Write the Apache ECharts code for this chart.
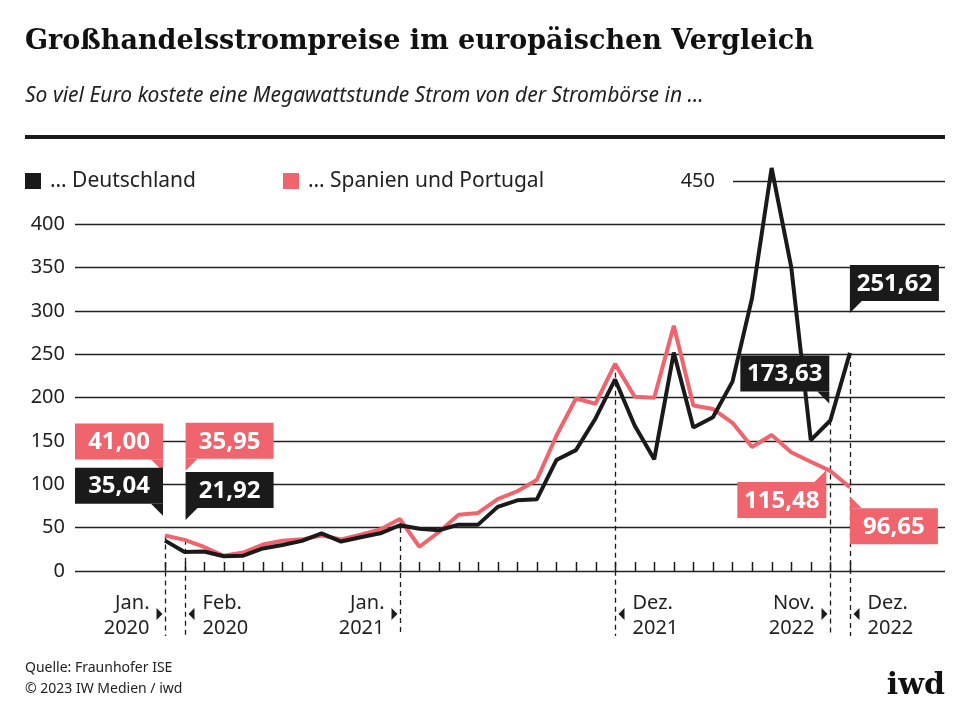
<!DOCTYPE html>
<html>
<head>
<meta charset="utf-8">
<script src="https://cdn.jsdelivr.net/npm/echarts@6/dist/echarts.min.js"></script>
<style>html,body{margin:0;padding:0;background:#fff}#main{width:970px;height:727px}</style>
</head>
<body>
<div id="main"></div>
<script>
// Jan 2020 .. Dez 2022, Euro je MWh
const months = ['Jan 20','Feb 20','Mär 20','Apr 20','Mai 20','Jun 20','Jul 20','Aug 20','Sep 20','Okt 20','Nov 20','Dez 20',
  'Jan 21','Feb 21','Mär 21','Apr 21','Mai 21','Jun 21','Jul 21','Aug 21','Sep 21','Okt 21','Nov 21','Dez 21',
  'Jan 22','Feb 22','Mär 22','Apr 22','Mai 22','Jun 22','Jul 22','Aug 22','Sep 22','Okt 22','Nov 22','Dez 22'];
const deutschland = [35.04,21.92,22.5,17,17.6,26,30,34.8,43.5,34,39,43.5,
  52.8,48.7,47,53.5,53.5,74,81.5,82.7,128,139.5,176,221,
  167.9,128.8,252,165.6,177.5,218.5,315,465,351,151,173.63,251.62];
const spanien = [41.00,35.95,27.7,17.6,21.3,30.6,35,36.5,41,36.5,42,48,
  60,28,45,65,67,83,92,105,156,199,193,239,
  201,200,283,191,187,171,143,157,137,126,115.48,96.65];
const yTicks = [0,50,100,150,200,250,300,350,400];
// marked months: index, line 1, line 2, side of label
const marks = [[0,'Jan.','2020','l'],[1,'Feb.','2020','r'],[12,'Jan.','2021','l'],[23,'Dez.','2021','r'],[34,'Nov.','2022','l'],[35,'Dez.','2022','r']];
// callouts: series, index, text, dx, dy of box corner relative to point
const callouts = [
  ['sp',0,'41,00',-90,-112,'br'],['de',0,'35,04',-90,-73,'br'],
  ['sp',1,'35,95',1,-117,'bl'],['de',1,'21,92',1,-80,'bl'],
  ['de',34,'173,63',-90,-65,'br'],['de',35,'251,62',0,-88,'bl'],
  ['sp',34,'115,48',-93,11,'tr'],['sp',35,'96,65',0,21,'tl']
];

const BLACK = '#1b1a1a', RED = '#f0646e';
const FONT = '"Noto Sans", sans-serif';
const chart = echarts.init(document.getElementById('main'));
chart.setOption({
  animation:false,
  grid:{left:75,right:25,top:181,bottom:156},
  xAxis:{type:'value',min:-4.6,max:39.86,show:false},
  yAxis:{type:'value',min:0,max:450,interval:50,axisLine:{show:false},axisTick:{show:false},
     splitLine:{lineStyle:{color:'#222',width:1.3}},
     axisLabel:{margin:10,fontSize:20,color:'#222',fontFamily:FONT,formatter:v=>v===450?'':v}},
  series:[
    {type:'line',name:'sp',symbol:'none',clip:false,data:spanien.map((v,i)=>[i,v]),lineStyle:{color:RED,width:4},z:3},
    {type:'line',name:'de',symbol:'none',clip:false,data:deutschland.map((v,i)=>[i,v]),lineStyle:{color:BLACK,width:4},z:4}
  ]
});

const px = (i,v)=>chart.convertToPixel({xAxisIndex:0,yAxisIndex:0},[i,v]);
const g = [];
g.push({type:'text',left:25,top:28,style:{text:'Großhandelsstrompreise im europäischen Vergleich',font:'bold 27px "DejaVu Serif", serif',fill:'#111'}});
g.push({type:'text',left:25,top:86,style:{text:'So viel Euro kostete eine Megawattstunde Strom von der Strombörse in …',font:'italic 21px '+FONT,fill:'#222'}});
g.push({type:'rect',shape:{x:25,y:135,width:920,height:4},style:{fill:BLACK}});
// hide left part of 450 line
g.push({type:'rect',shape:{x:0,y:178,width:733,height:6},style:{fill:'#fff'},z:1});
g.push({type:'text',x:715,y:181,style:{text:'450',font:'20px '+FONT,fill:'#222',align:'right',verticalAlign:'middle'},z:51});
g.push({type:'rect',shape:{x:25,y:173,width:16,height:16},style:{fill:BLACK},z:51});
g.push({type:'text',x:50,y:181,style:{text:'… Deutschland',font:'21px '+FONT,fill:'#222',verticalAlign:'middle'},z:51});
g.push({type:'rect',shape:{x:283,y:173,width:16,height:16},style:{fill:RED},z:51});
g.push({type:'text',x:308,y:181,style:{text:'… Spanien und Portugal',font:'21px '+FONT,fill:'#222',verticalAlign:'middle'},z:51});

// month ticks
months.forEach((m,i)=>{
  const p = px(i,0); const x = Math.round(p[0])+0.5;
  g.push({type:'line',shape:{x1:x,y1:p[1]-9,x2:x,y2:p[1]},style:{stroke:BLACK,lineWidth:1.5}});
});

marks.forEach(([i,a,b,side])=>{
  const top = px(i,Math.max(deutschland[i],spanien[i]));
  const x = Math.round(top[0])+0.5;
  g.push({type:'line',shape:{x1:x,y1:top[1],x2:x,y2:636},style:{stroke:BLACK,lineWidth:1.3,lineDash:[5,4]},z:2});
  const tx = side==='l'?x-16:x+17, al = side==='l'?'right':'left';
  g.push({type:'text',x:tx,y:603,style:{text:a,font:'20px '+FONT,fill:'#222',align:al,verticalAlign:'middle'}});
  g.push({type:'text',x:tx,y:628,style:{text:b,font:'20px '+FONT,fill:'#222',align:al,verticalAlign:'middle'}});
  g.push({type:'polygon',shape:{points:side==='l'?[[x-9,608],[x-9,620],[x-3,614]]:[[x+9,608],[x+9,620],[x+3,614]]},style:{fill:BLACK}});
});

callouts.forEach(([s,i,t,dx,dy,ptr])=>{
  const p = px(i,(s==='de'?deutschland:spanien)[i]);
  const fill = s==='de'?BLACK:RED;
  const w = t.length>5?89:88, h = 36;
  const bx = p[0]+dx, by = p[1]+dy;
  g.push({type:'rect',shape:{x:bx,y:by,width:w,height:h},style:{fill},z:20});
  let pts;
  if(ptr==='br') pts=[[bx+w-12,by+h],[bx+w,by+h],[bx+w,by+h+12]];
  if(ptr==='bl') pts=[[bx,by+h],[bx+12,by+h],[bx,by+h+12]];
  if(ptr==='tr') pts=[[bx+w-12,by],[bx+w,by],[bx+w,by-12]];
  if(ptr==='tl') pts=[[bx,by],[bx+12,by],[bx,by-12]];
  g.push({type:'polygon',shape:{points:pts},style:{fill},z:20});
  g.push({type:'text',x:bx+w/2,y:by+h/2+1,style:{text:t,font:'bold 24px '+FONT,fill:'#fff',align:'center',verticalAlign:'middle'},z:21});
});

g.push({type:'text',left:25,top:661,style:{text:'Quelle: Fraunhofer ISE',font:'14px '+FONT,fill:'#222'}});
g.push({type:'text',left:25,top:682,style:{text:'© 2023 IW Medien / iwd',font:'14px '+FONT,fill:'#222'}});
g.push({type:'text',x:945,y:686,style:{text:'iwd',font:'bold 30px "DejaVu Serif", serif',fill:'#111',align:'right',verticalAlign:'middle'}});
chart.setOption({graphic:g});
</script>
</body>
</html>
